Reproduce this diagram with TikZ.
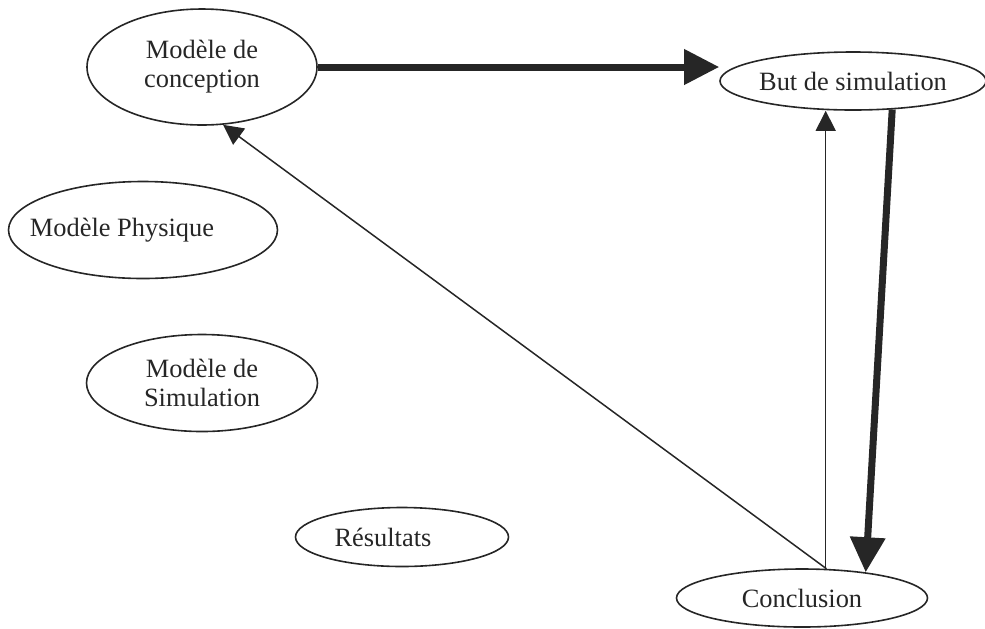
\documentclass[tikz,border=0pt]{standalone}
\usepackage{fontspec}
\setmainfont{Liberation Serif}
\usetikzlibrary{positioning,arrows.meta,shapes.geometric,calc}

\begin{document}
\begin{tikzpicture}[x=0.5pt,y=-0.5pt,
  bubble/.style={draw=black!85,ellipse,line width=0.8pt,inner sep=0pt,align=center,text=black!85,font=\fontsize{13.2}{14.5}\selectfont},
  bigarr/.style={-{Triangle[length=17.5pt,width=17pt]},line width=3.5pt,draw=black!85},
  smallarr/.style={-{Triangle[length=10pt,width=10pt]},line width=0.75pt,draw=black!85}
]
\useasboundingbox (0,0) rectangle (985,628);
\node[bubble,minimum width=115pt,minimum height=58pt] (concept) at (202,67) {Modèle de\\conception};
\node[bubble,minimum width=133pt,minimum height=29pt] (goal) at (853,81) {But de simulation};
\node[bubble,minimum width=134.5pt,minimum height=48.5pt] (phys) at (143,230) {\makebox[0pt]{Modèle Physique\hspace{21pt}}};
\node[bubble,minimum width=115.5pt,minimum height=48.5pt] (simu) at (202,383) {Modèle de\\Simulation};
\node[bubble,minimum width=106.5pt,minimum height=29.5pt] (result) at (402,537) {\makebox[0pt]{Résultats\hspace{19pt}}};
\node[bubble,minimum width=125.5pt,minimum height=29pt] (concl) at (802,598) {Conclusion};

\draw[bigarr] (concept.east) -- (concept.east -| goal.west);
\draw[bigarr] (goal.-36) -- (concl.22);
\draw[smallarr] (concl.51) -- (concl.51 |- goal.south);
\draw[smallarr] (concl.50) -- (concept.-70);
\end{tikzpicture}
\end{document}
